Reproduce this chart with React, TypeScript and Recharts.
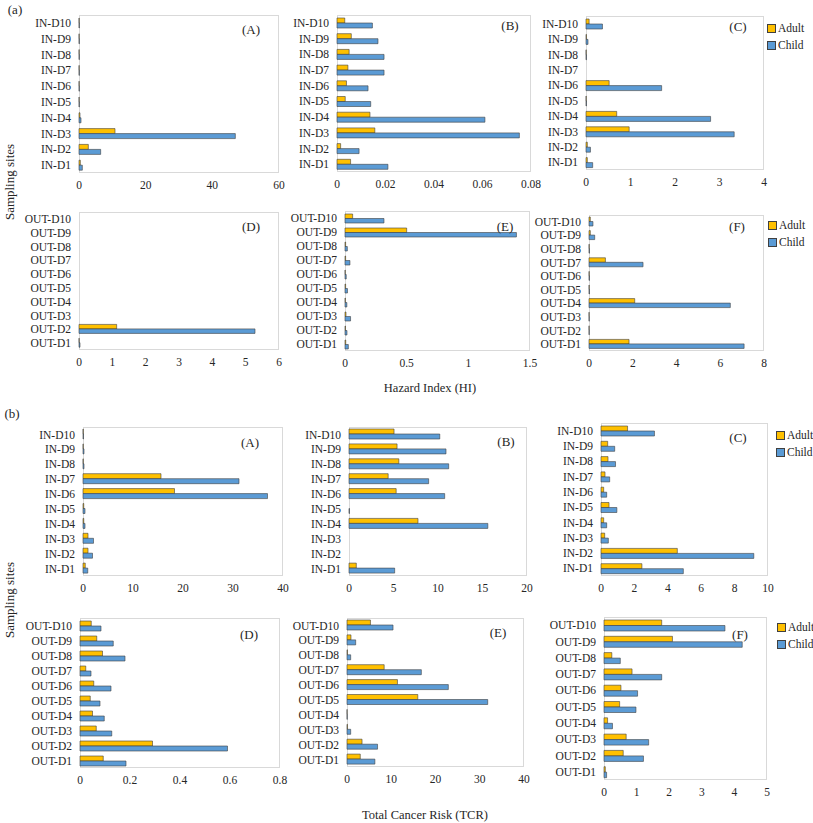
import React from "react";
import { BarChart, Bar, XAxis, YAxis } from "recharts";

const inSites = ["IN-D1", "IN-D2", "IN-D3", "IN-D4", "IN-D5", "IN-D6", "IN-D7", "IN-D8", "IN-D9", "IN-D10"];
const outSites = ["OUT-D1", "OUT-D2", "OUT-D3", "OUT-D4", "OUT-D5", "OUT-D6", "OUT-D7", "OUT-D8", "OUT-D9", "OUT-D10"];

// (a) Hazard Index, values in site order D1 -> D10
const hiAdultA = [0.4, 2.8, 10.8, 0.3, 0.05, 0.05, 0.05, 0.05, 0.05, 0.05];
const hiChildA = [1.0, 6.5, 46.9, 0.6, 0.1, 0.1, 0.1, 0.1, 0.1, 0.1];
const hiAdultB = [0.0056, 0.0015, 0.0156, 0.0136, 0.0034, 0.0039, 0.0045, 0.005, 0.0059, 0.0032];
const hiChildB = [0.021, 0.0091, 0.0752, 0.061, 0.0139, 0.0128, 0.0194, 0.0194, 0.0169, 0.0146];
const hiAdultC = [0.03, 0.03, 0.97, 0.69, 0.005, 0.52, 0, 0.005, 0.01, 0.07];
const hiChildC = [0.15, 0.1, 3.33, 2.8, 0.01, 1.7, 0, 0.01, 0.045, 0.37];
const hiAdultD = [0.005, 1.13, 0, 0, 0, 0, 0, 0, 0, 0];
const hiChildD = [0.03, 5.28, 0, 0, 0, 0, 0, 0, 0, 0];
const hiAdultE = [0.006, 0.004, 0.008, 0.003, 0.005, 0.002, 0.005, 0.005, 0.5, 0.062];
const hiChildE = [0.027, 0.016, 0.045, 0.015, 0.02, 0.01, 0.04, 0.019, 1.39, 0.316];
const hiAdultF = [1.83, 0.005, 0.005, 2.09, 0.01, 0.01, 0.75, 0.01, 0.06, 0.06];
const hiChildF = [7.09, 0.01, 0.01, 6.46, 0.02, 0.02, 2.47, 0.02, 0.26, 0.18];

// (b) Total Cancer Risk, values in site order D1 -> D10
const tcrAdultA = [0.45, 1.0, 1.0, 0.15, 0.15, 18.3, 15.6, 0.05, 0.05, 0.05];
const tcrChildA = [0.95, 1.9, 2.1, 0.4, 0.4, 36.9, 31.2, 0.2, 0.2, 0.1];
const tcrAdultB = [0.82, 0, 0, 7.75, 0, 5.3, 4.4, 5.6, 5.4, 5.06];
const tcrChildB = [5.13, 0, 0, 15.6, 0.05, 10.75, 8.95, 11.2, 10.9, 10.2];
const tcrAdultC = [2.45, 4.57, 0.22, 0.16, 0.48, 0.16, 0.24, 0.42, 0.4, 1.59];
const tcrChildC = [4.93, 9.15, 0.44, 0.34, 0.95, 0.34, 0.52, 0.87, 0.82, 3.2];
const tcrAdultD = [0.093, 0.29, 0.065, 0.05, 0.041, 0.055, 0.023, 0.09, 0.067, 0.045];
const tcrChildD = [0.184, 0.59, 0.127, 0.097, 0.08, 0.124, 0.044, 0.18, 0.133, 0.084];
const tcrAdultE = [3.0, 3.4, 0.1, 0.02, 16.0, 11.4, 8.4, 0.1, 0.9, 5.3];
const tcrChildE = [6.3, 6.9, 0.83, 0.05, 31.8, 22.9, 16.8, 0.83, 1.96, 10.4];
const tcrAdultF = [0.04, 0.59, 0.68, 0.11, 0.48, 0.52, 0.86, 0.24, 2.1, 1.77];
const tcrChildF = [0.08, 1.21, 1.37, 0.26, 0.98, 1.03, 1.77, 0.5, 4.24, 3.71];

const FONT = "'Liberation Serif', 'DejaVu Serif', serif";
const ADULT = "#FFC000";
const CHILD = "#5B9BD5";
const EDGE = "#404040";

type PanelCfg = {
  sites: string[];
  adult: number[];
  child: number[];
  ticks: number[];
  tag: string;
  x0: number; x1: number; y0: number; y1: number;
  tagX: number; tagY: number;
  bar: number;
  legendY?: number;
  legendX?: number;
};

const panels: PanelCfg[] = [
  { sites: inSites, adult: hiAdultA, child: hiChildA, ticks: [0, 20, 40, 60], tag: "(A)", x0: 79, x1: 279, y0: 15, y1: 173, tagX: 251, tagY: 30, bar: 5 },
  { sites: inSites, adult: hiAdultB, child: hiChildB, ticks: [0, 0.02, 0.04, 0.06, 0.08], tag: "(B)", x0: 337, x1: 531, y0: 15, y1: 172, tagX: 510, tagY: 26, bar: 5 },
  { sites: inSites, adult: hiAdultC, child: hiChildC, ticks: [0, 1, 2, 3, 4], tag: "(C)", x0: 586, x1: 764, y0: 16, y1: 170, tagX: 738, tagY: 27, bar: 5, legendX: 767, legendY: 28 },
  { sites: outSites, adult: hiAdultD, child: hiChildD, ticks: [0, 1, 2, 3, 4, 5, 6], tag: "(D)", x0: 79, x1: 279, y0: 212, y1: 350, tagX: 251, tagY: 227, bar: 4.5 },
  { sites: outSites, adult: hiAdultE, child: hiChildE, ticks: [0, 0.5, 1, 1.5], tag: "(E)", x0: 345, x1: 530, y0: 211, y1: 351, tagX: 505, tagY: 227, bar: 4.5 },
  { sites: outSites, adult: hiAdultF, child: hiChildF, ticks: [0, 2, 4, 6, 8], tag: "(F)", x0: 589, x1: 764, y0: 215, y1: 351, tagX: 737, tagY: 227, bar: 4.5, legendX: 768, legendY: 225 },
  { sites: inSites, adult: tcrAdultA, child: tcrChildA, ticks: [0, 10, 20, 30, 40], tag: "(A)", x0: 83, x1: 283, y0: 427, y1: 576, tagX: 250, tagY: 443, bar: 5 },
  { sites: inSites, adult: tcrAdultB, child: tcrChildB, ticks: [0, 5, 10, 15, 20], tag: "(B)", x0: 349, x1: 527, y0: 427, y1: 576, tagX: 506, tagY: 442, bar: 5 },
  { sites: inSites, adult: tcrAdultC, child: tcrChildC, ticks: [0, 2, 4, 6, 8, 10], tag: "(C)", x0: 601, x1: 768, y0: 423, y1: 576, tagX: 738, tagY: 438, bar: 5, legendX: 776, legendY: 435 },
  { sites: outSites, adult: tcrAdultD, child: tcrChildD, ticks: [0, 0.2, 0.4, 0.6, 0.8], tag: "(D)", x0: 80, x1: 280, y0: 618, y1: 768, tagX: 249, tagY: 635, bar: 5 },
  { sites: outSites, adult: tcrAdultE, child: tcrChildE, ticks: [0, 10, 20, 30, 40], tag: "(E)", x0: 347, x1: 524, y0: 618, y1: 767, tagX: 498, tagY: 633, bar: 5 },
  { sites: outSites, adult: tcrAdultF, child: tcrChildF, ticks: [0, 1, 2, 3, 4, 5], tag: "(F)", x0: 604, x1: 767, y0: 617, y1: 780, tagX: 740, tagY: 635, bar: 5.5, legendX: 777, legendY: 627 },
];

const YW = 80;
const MT = 5;
const MR = 15;
const XH = 30;

function Legend({ x, y }: { x: number; y: number }) {
  const item = (label: string, color: string, top: number) => (
    <div style={{ position: "absolute", left: x, top: top - 7, height: 14, display: "flex", alignItems: "center", whiteSpace: "nowrap" }}>
      <span style={{ display: "inline-block", width: 7, height: 7, background: color, border: `1px solid ${EDGE}`, marginRight: 2 }} />
      <span style={{ fontFamily: FONT, fontSize: 11.5, color: "#262626" }}>{label}</span>
    </div>
  );
  return (
    <>
      {item("Adult", ADULT, y)}
      {item("Child", CHILD, y + 17)}
    </>
  );
}

function Panel({ p }: { p: PanelCfg }) {
  const data = p.sites.map((site, i) => ({ site, Adult: p.adult[i], Child: p.child[i] }));
  const w = p.x1 - p.x0;
  const h = p.y1 - p.y0;
  const max = p.ticks[p.ticks.length - 1];
  return (
    <>
      <div style={{ position: "absolute", left: p.x0, top: p.y0, width: w, height: h, border: "1px solid #d9d9d9", boxSizing: "border-box" }} />
      <div style={{ position: "absolute", left: p.x0 - YW, top: p.y0 - MT }}>
        <BarChart
          width={w + YW + MR}
          height={h + MT + XH}
          data={data}
          layout="vertical"
          margin={{ top: MT, right: MR, left: 0, bottom: 0 }}
          barGap={0}
        >
          <XAxis
            type="number"
            domain={[0, max]}
            ticks={p.ticks}
            interval={0}
            tickLine={false}
            axisLine={false}
            height={XH}
            tick={{ fill: "#262626", fontSize: 11.5, fontFamily: FONT }}
          />
          <YAxis
            type="category"
            dataKey="site"
            reversed
            width={YW}
            interval={0}
            tickLine={false}
            axisLine={false}
            tick={{ fill: "#262626", fontSize: 11.5, fontFamily: FONT }}
          />
          <Bar dataKey="Adult" fill={ADULT} stroke={EDGE} strokeWidth={0.6} barSize={p.bar} isAnimationActive={false} />
          <Bar dataKey="Child" fill={CHILD} stroke={EDGE} strokeWidth={0.6} barSize={p.bar} isAnimationActive={false} />
        </BarChart>
      </div>
      <div style={{ position: "absolute", left: p.tagX, top: p.tagY, transform: "translate(-50%, -50%)", fontFamily: FONT, fontSize: 13, color: "#262626" }}>
        {p.tag}
      </div>
      {p.legendX !== undefined && p.legendY !== undefined && <Legend x={p.legendX} y={p.legendY} />}
    </>
  );
}

const text = (s: string, x: number, y: number, size: number, rotate = false) => (
  <div
    style={{
      position: "absolute",
      left: x,
      top: y,
      transform: `translate(-50%, -50%)${rotate ? " rotate(-90deg)" : ""}`,
      fontFamily: FONT,
      fontSize: size,
      color: "#262626",
      whiteSpace: "nowrap",
    }}
  >
    {s}
  </div>
);

export default function App() {
  return (
    <div style={{ position: "absolute", left: 0, top: 0, width: 813, height: 823, background: "#fff", overflow: "hidden" }}>
      {text("(a)", 15, 10, 13)}
      {text("(b)", 12, 414, 13)}
      {text("Sampling sites", 10, 182, 13, true)}
      {text("Sampling sites", 10, 600, 13, true)}
      {text("Hazard Index (HI)", 430, 388, 12.5)}
      {text("Total Cancer Risk (TCR)", 425, 815, 12.5)}
      {panels.map((p, i) => (
        <Panel key={i} p={p} />
      ))}
    </div>
  );
}
